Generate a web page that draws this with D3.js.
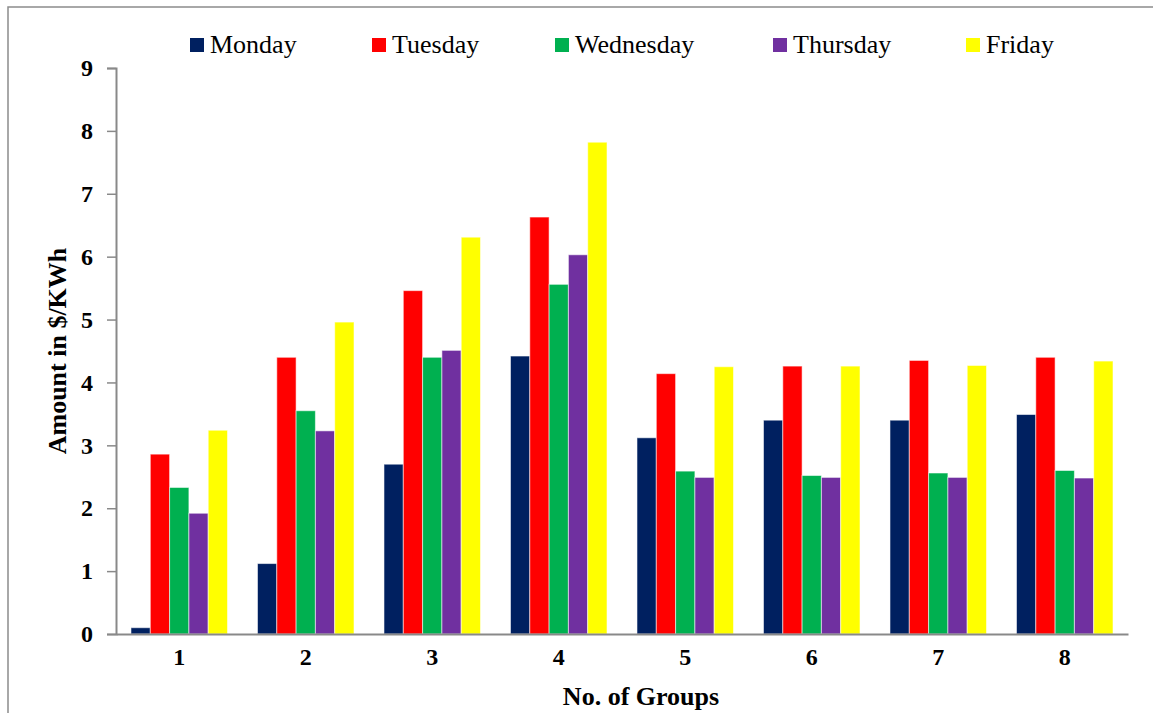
<!DOCTYPE html>
<html>
<head>
<meta charset="utf-8">
<script src="https://cdn.jsdelivr.net/npm/d3@7"></script>
<style>
  body { margin: 0; background: #fff; }
  text { font-family: "Liberation Serif", "Times New Roman", serif; }
</style>
</head>
<body>
<div id="chart"></div>
<script>
// data
const groups = ["1", "2", "3", "4", "5", "6", "7", "8"];
const days = ["Monday", "Tuesday", "Wednesday", "Thursday", "Friday"];
const monday    = [0.10, 1.12, 2.70, 4.42, 3.12, 3.40, 3.40, 3.49];
const tuesday   = [2.86, 4.40, 5.46, 6.63, 4.14, 4.26, 4.35, 4.40];
const wednesday = [2.33, 3.55, 4.40, 5.56, 2.59, 2.52, 2.56, 2.60];
const thursday  = [1.92, 3.23, 4.51, 6.03, 2.49, 2.49, 2.49, 2.48];
const friday    = [3.24, 4.96, 6.31, 7.82, 4.25, 4.26, 4.27, 4.34];
const yTicks = [0, 1, 2, 3, 4, 5, 6, 7, 8, 9];
const colors = ["#002060", "#ff0000", "#00b050", "#7030a0", "#ffff00"];

const series = [monday, tuesday, wednesday, thursday, friday];
const table = groups.map((g, i) => {
  const row = {group: g};
  days.forEach((d, j) => row[d] = series[j][i]);
  return row;
});

const W = 1153, H = 713;
const margin = {top: 68, right: 25, bottom: 79, left: 116},
    width = W - margin.left - margin.right,
    height = H - margin.top - margin.bottom;

const root = d3.select("#chart")
  .append("svg")
    .attr("width", W)
    .attr("height", H);

// outer frame
root.append("rect")
  .attr("x", 8).attr("y", 7)
  .attr("width", W + 20).attr("height", H + 20)
  .attr("fill", "none")
  .attr("stroke", "#8c8c8c")
  .attr("stroke-width", 1.5);

const svg = root.append("g")
  .attr("transform", `translate(${margin.left},${margin.top})`);

const x0 = d3.scaleBand()
  .domain(groups)
  .range([0, width])
  .paddingInner(0.237)
  .paddingOuter(0.1185);

const x1 = d3.scaleBand()
  .domain(days)
  .range([0, x0.bandwidth()]);

const y = d3.scaleLinear()
  .domain([0, 9])
  .range([height, 0]);

const color = d3.scaleOrdinal().domain(days).range(colors);

// bars
svg.append("g")
  .selectAll("g")
  .data(table)
  .join("g")
    .attr("transform", d => `translate(${x0(d.group)},0)`)
  .selectAll("rect")
  .data(d => days.map(k => ({key: k, value: d[k]})))
  .join("rect")
    .attr("x", d => x1(d.key))
    .attr("y", d => y(d.value))
    .attr("width", x1.bandwidth())
    .attr("height", d => y(0) - y(d.value))
    .attr("fill", d => color(d.key))
    .attr("stroke", "rgba(255,255,255,0.55)")
    .attr("stroke-width", 1);

// y axis
const yAxis = svg.append("g")
  .call(d3.axisLeft(y).tickValues(yTicks).tickSize(9).tickPadding(14).tickFormat(d3.format("d")));
yAxis.select(".domain").attr("stroke", "#898989").attr("stroke-width", 2);
yAxis.selectAll(".tick line").attr("stroke", "#898989").attr("stroke-width", 1.5);
yAxis.selectAll(".tick text")
  .attr("font-size", 24).attr("font-weight", "bold")
  .attr("font-family", "Liberation Serif, serif").attr("fill", "#000");

// x axis
const xAxis = svg.append("g")
  .attr("transform", `translate(0,${height})`)
  .call(d3.axisBottom(x0).tickSize(0).tickPadding(14));
xAxis.select(".domain").attr("stroke", "#898989").attr("stroke-width", 2);
xAxis.selectAll(".tick text")
  .attr("font-size", 24).attr("font-weight", "bold")
  .attr("font-family", "Liberation Serif, serif").attr("fill", "#000");

// axis titles
svg.append("text")
  .attr("transform", `translate(${-margin.left + 66},${height / 2}) rotate(-90)`)
  .attr("text-anchor", "middle")
  .attr("font-size", 26)
  .attr("font-weight", "bold")
  .text("Amount in $/KWh");

svg.append("text")
  .attr("x", 641 - margin.left)
  .attr("y", height + 71)
  .attr("text-anchor", "middle")
  .attr("font-size", 26)
  .attr("font-weight", "bold")
  .text("No. of Groups");

// legend
const legendX = [190, 372, 555, 773, 966];
const legend = root.append("g")
  .selectAll("g")
  .data(days)
  .join("g")
    .attr("transform", (d, i) => `translate(${legendX[i]},38)`);
legend.append("rect")
  .attr("width", 14).attr("height", 14)
  .attr("fill", d => color(d));
legend.append("text")
  .attr("x", 20)
  .attr("y", 15)
  .attr("font-size", 26)
  .text(d => d);
</script>
</body>
</html>
